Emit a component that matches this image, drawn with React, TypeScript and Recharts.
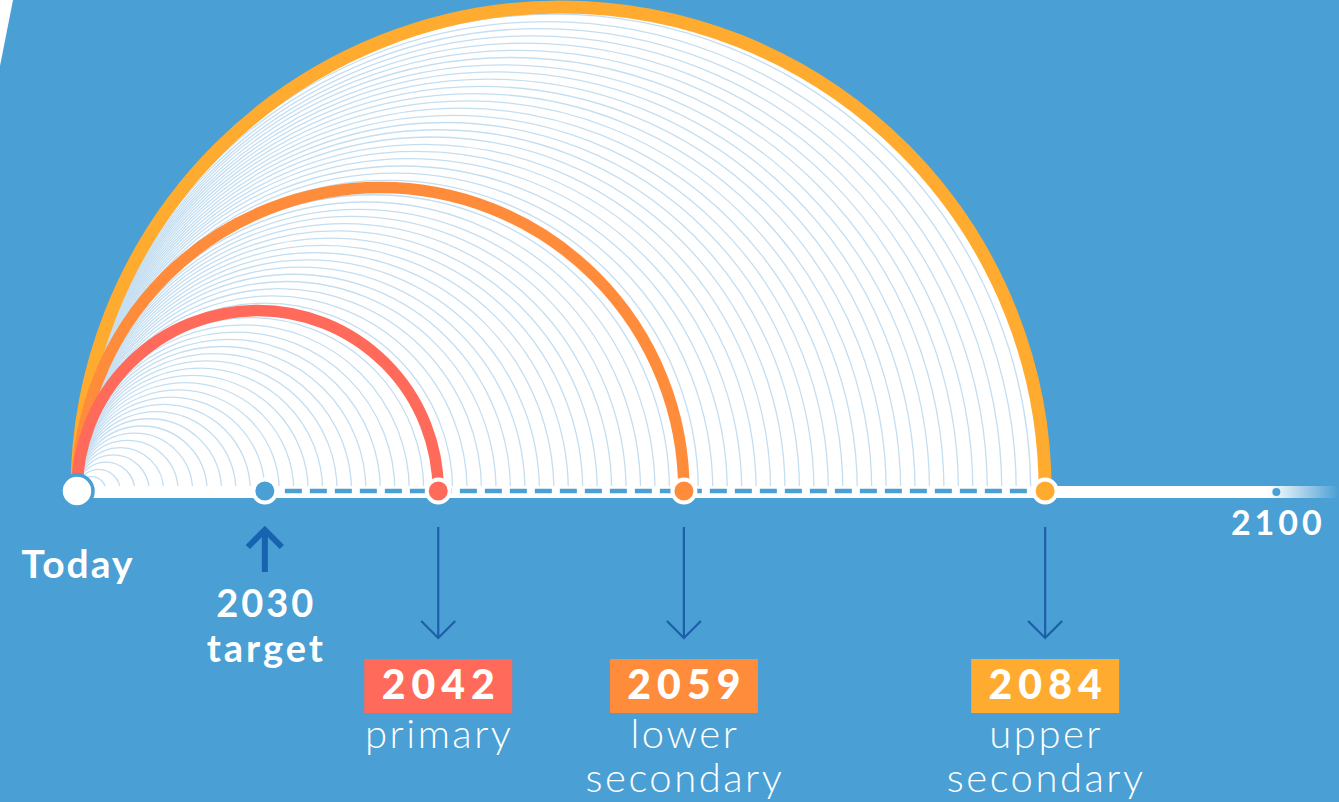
import React from 'react';
import { ComposedChart, XAxis, YAxis, ReferenceLine, ReferenceDot, Scatter } from 'recharts';

// ---------- data ----------
const TODAY_YEAR = 2017;
const TARGET_YEAR = 2030;
const END_YEAR = 2100;
const MILESTONE_YEARS = [2042, 2059, 2084];
const MILESTONE_TEXT = ['2042', '2059', '2084'];
const MILESTONE_LEVELS = [['primary'], ['lower', 'secondary'], ['upper', 'secondary']];
const THIN_ARC_YEARS = [
  2018, 2019, 2020, 2021, 2022, 2023, 2024, 2025, 2026, 2027, 2028, 2029, 2030, 2031, 2032,
  2033, 2034, 2035, 2036, 2037, 2038, 2039, 2040, 2041, 2042, 2043, 2044, 2045, 2046, 2047,
  2048, 2049, 2050, 2051, 2052, 2053, 2054, 2055, 2056, 2057, 2058, 2059, 2060, 2061, 2062,
  2063, 2064, 2065, 2066, 2067, 2068, 2069, 2070, 2071, 2072, 2073, 2074, 2075, 2076, 2077,
  2078, 2079, 2080, 2081, 2082, 2083,
];

// ---------- styles / layout ----------
const W = 1339;
const H = 802;
const PX_PER_YEAR = 14.45;
const TODAY_PX = 77;
const BASE_PX = 491;
const X_MIN = TODAY_YEAR - TODAY_PX / PX_PER_YEAR;
const X_MAX = X_MIN + W / PX_PER_YEAR;
const Y_MIN = -(H - BASE_PX);
const Y_MAX = BASE_PX;

const BG = '#4A9FD4';
const THIN = '#C4DEF1';
const DARK = '#1D5FA8';
const MILESTONE_COLORS = ['#FF6A5A', '#FF8C3B', '#FFAB2F'];
const ARC_WIDTHS = [11.5, 11.5, 13];
const FONT = 'Lato, "Open Sans", "DejaVu Sans", sans-serif';

const milestoneData = MILESTONE_YEARS.map((year, i) => ({ year, v: 0, color: MILESTONE_COLORS[i] }));

const arcShape = (stroke: string, width: number, fill: string = 'none') => (p: any) => {
  if (p == null || p.x1 == null) return <g />;
  const r = Math.abs(p.x2 - p.x1) / 2;
  return (
    <path
      d={`M${p.x1},${p.y1} A${r},${r} 0 0 1 ${p.x2},${p.y2}`}
      fill={fill}
      stroke={stroke}
      strokeWidth={width}
    />
  );
};

const bandShape = (p: any) => {
  if (p == null || p.x1 == null) return <g />;
  const fadeStart = p.x2 - 70;
  return (
    <g>
      <defs>
        <linearGradient id="bandFade" gradientUnits="userSpaceOnUse" x1={fadeStart} y1={0} x2={p.x2} y2={0}>
          <stop offset="0" stopColor="#ffffff" stopOpacity={1} />
          <stop offset="1" stopColor="#ffffff" stopOpacity={0} />
        </linearGradient>
      </defs>
      <line x1={p.x1} y1={p.y1} x2={p.x2} y2={p.y2} stroke="url(#bandFade)" strokeWidth={12} />
    </g>
  );
};

const dashShape = (p: any) => {
  if (p == null || p.x1 == null) return <g />;
  return (
    <line
      x1={p.x1 + 20}
      y1={p.y1}
      x2={p.x2}
      y2={p.y2}
      stroke={BG}
      strokeWidth={4.5}
      strokeDasharray="17 8"
    />
  );
};

const downArrowShape = (p: any) => {
  if (p == null || p.x1 == null) return <g />;
  return (
    <g stroke={DARK} strokeWidth={2.2} fill="none">
      <line x1={p.x1} y1={p.y1} x2={p.x2} y2={p.y2} />
      <polyline points={`${p.x2 - 17},${p.y2 - 17} ${p.x2},${p.y2} ${p.x2 + 17},${p.y2 - 17}`} />
    </g>
  );
};

const upArrowShape = (p: any) => {
  if (p == null || p.x1 == null) return <g />;
  return (
    <g stroke="#1863B0" strokeWidth={6} fill="none">
      <line x1={p.x1} y1={p.y1} x2={p.x2} y2={p.y2 + 2} />
      <polyline points={`${p.x2 - 17},${p.y2 + 17} ${p.x2},${p.y2} ${p.x2 + 17},${p.y2 + 17}`} />
    </g>
  );
};

const textShape = (lines: string[], size: number, weight: number, lineGap: number, spacing = 0) => (p: any) => {
  if (p == null || p.cx == null) return <g />;
  return (
    <g>
      {lines.map((t, i) => (
        <text
          key={i}
          x={p.cx + spacing / 2}
          y={p.cy + i * lineGap}
          textAnchor="middle"
          fill="#ffffff"
          fontFamily={FONT}
          fontSize={size}
          fontWeight={weight}
          letterSpacing={spacing}
        >
          {t}
        </text>
      ))}
    </g>
  );
};

const boxShape = (label: string, color: string, levels: string[]) => (p: any) => {
  if (p == null || p.cx == null) return <g />;
  return (
    <g>
      <rect x={p.cx - 74} y={p.cy} width={148} height={54} fill={color} />
      <text
        x={p.cx + 3}
        y={p.cy + 40}
        textAnchor="middle"
        fill="#ffffff"
        fontFamily={FONT}
        fontSize={41}
        fontWeight={900}
        letterSpacing={6}
      >
        {label}
      </text>
      {levels.map((t, i) => (
        <text
          key={i}
          x={p.cx + 1}
          y={p.cy + 89 + i * 44}
          textAnchor="middle"
          fill="#ffffff"
          fontFamily={FONT}
          fontSize={40}
          fontWeight={300}
          letterSpacing={2.5}
        >
          {t}
        </text>
      ))}
    </g>
  );
};

const todayDot = (p: any) => {
  if (p == null || p.cx == null) return <g />;
  return <circle cx={p.cx} cy={p.cy} r={16} fill="#ffffff" stroke={BG} strokeWidth={3.5} />;
};

const targetDot = (p: any) => {
  if (p == null || p.cx == null) return <g />;
  return <circle cx={p.cx} cy={p.cy} r={11.5} fill={BG} stroke="#ffffff" strokeWidth={4} />;
};

const endDot = (p: any) => {
  if (p == null || p.cx == null) return <g />;
  return <circle cx={p.cx} cy={p.cy} r={4} fill={BG} />;
};

const milestoneDot = (p: any) => {
  if (p == null || p.cx == null) return <g />;
  return <circle cx={p.cx} cy={p.cy} r={11.5} fill={p.payload?.color ?? p.color} stroke="#ffffff" strokeWidth={4} />;
};

export default function App() {
  const outerYear = MILESTONE_YEARS[2];
  return (
    <div
      style={{
        position: 'absolute',
        left: 0,
        top: 0,
        width: W,
        height: H,
        background: BG,
        overflow: 'hidden',
      }}
    >
      <svg width={W} height={H} style={{ position: 'absolute', left: 0, top: 0 }}>
        <polygon points="0,0 13,0 0,66" fill="#ffffff" />
      </svg>
      <div style={{ position: 'absolute', left: 0, top: 0 }}>
        <ComposedChart width={W} height={H} margin={{ top: 0, right: 0, bottom: 0, left: 0 }} data={milestoneData}>
          <XAxis dataKey="year" type="number" domain={[X_MIN, X_MAX]} hide allowDataOverflow />
          <YAxis dataKey="v" type="number" domain={[Y_MIN, Y_MAX]} hide allowDataOverflow />

          {/* white fill of the outer semicircle */}
          <ReferenceLine
            segment={[{ x: TODAY_YEAR, y: 0 }, { x: outerYear, y: 0 }]}
            shape={arcShape('none', 0, '#ffffff')}
          />
          {/* thin arcs */}
          {THIN_ARC_YEARS.map((yr) => (
            <ReferenceLine
              key={`thin-${yr}`}
              segment={[{ x: TODAY_YEAR, y: 0 }, { x: yr, y: 0 }]}
              shape={arcShape(THIN, 1.3)}
            />
          ))}
          {/* thick milestone arcs, outermost first */}
          {[2, 1, 0].map((i) => (
            <ReferenceLine
              key={`thick-${i}`}
              segment={[{ x: TODAY_YEAR, y: 0 }, { x: MILESTONE_YEARS[i], y: 0 }]}
              shape={arcShape(MILESTONE_COLORS[i], ARC_WIDTHS[i])}
            />
          ))}
          {/* baseline band */}
          <ReferenceLine
            segment={[{ x: TODAY_YEAR, y: -1 }, { x: X_MAX, y: -1 }]}
            shape={bandShape}
          />
          {/* dashed segment */}
          <ReferenceLine
            segment={[{ x: TARGET_YEAR, y: 0 }, { x: outerYear, y: 0 }]}
            shape={dashShape}
          />
          {/* arrows */}
          <ReferenceLine
            segment={[{ x: TARGET_YEAR, y: -81 }, { x: TARGET_YEAR, y: -39 }]}
            shape={upArrowShape}
          />
          {MILESTONE_YEARS.map((yr) => (
            <ReferenceLine
              key={`arrow-${yr}`}
              segment={[{ x: yr, y: -36 }, { x: yr, y: -147 }]}
              shape={downArrowShape}
            />
          ))}

          {/* labels */}
          <ReferenceDot x={TODAY_YEAR} y={-87} r={0} shape={textShape(['Today'], 39, 700, 0, 2)} />
          <ReferenceDot x={TARGET_YEAR} y={-126} r={0} shape={textShape(['2030', 'target'], 38, 700, 45, 3)} />
          <ReferenceDot x={END_YEAR} y={-44} r={0} shape={textShape(['2100'], 34, 700, 0, 4)} />
          {MILESTONE_YEARS.map((yr, i) => (
            <ReferenceDot
              key={`box-${yr}`}
              x={yr}
              y={-168}
              r={0}
              shape={boxShape(MILESTONE_TEXT[i], MILESTONE_COLORS[i], MILESTONE_LEVELS[i])}
            />
          ))}

          {/* markers */}
          <ReferenceDot x={END_YEAR} y={-1} r={4} shape={endDot} />
          <ReferenceDot x={TARGET_YEAR} y={0} r={11} shape={targetDot} />
          <ReferenceDot x={TODAY_YEAR} y={0} r={16} shape={todayDot} />
          <Scatter data={milestoneData} dataKey="v" shape={milestoneDot} isAnimationActive={false} />
        </ComposedChart>
      </div>
    </div>
  );
}
